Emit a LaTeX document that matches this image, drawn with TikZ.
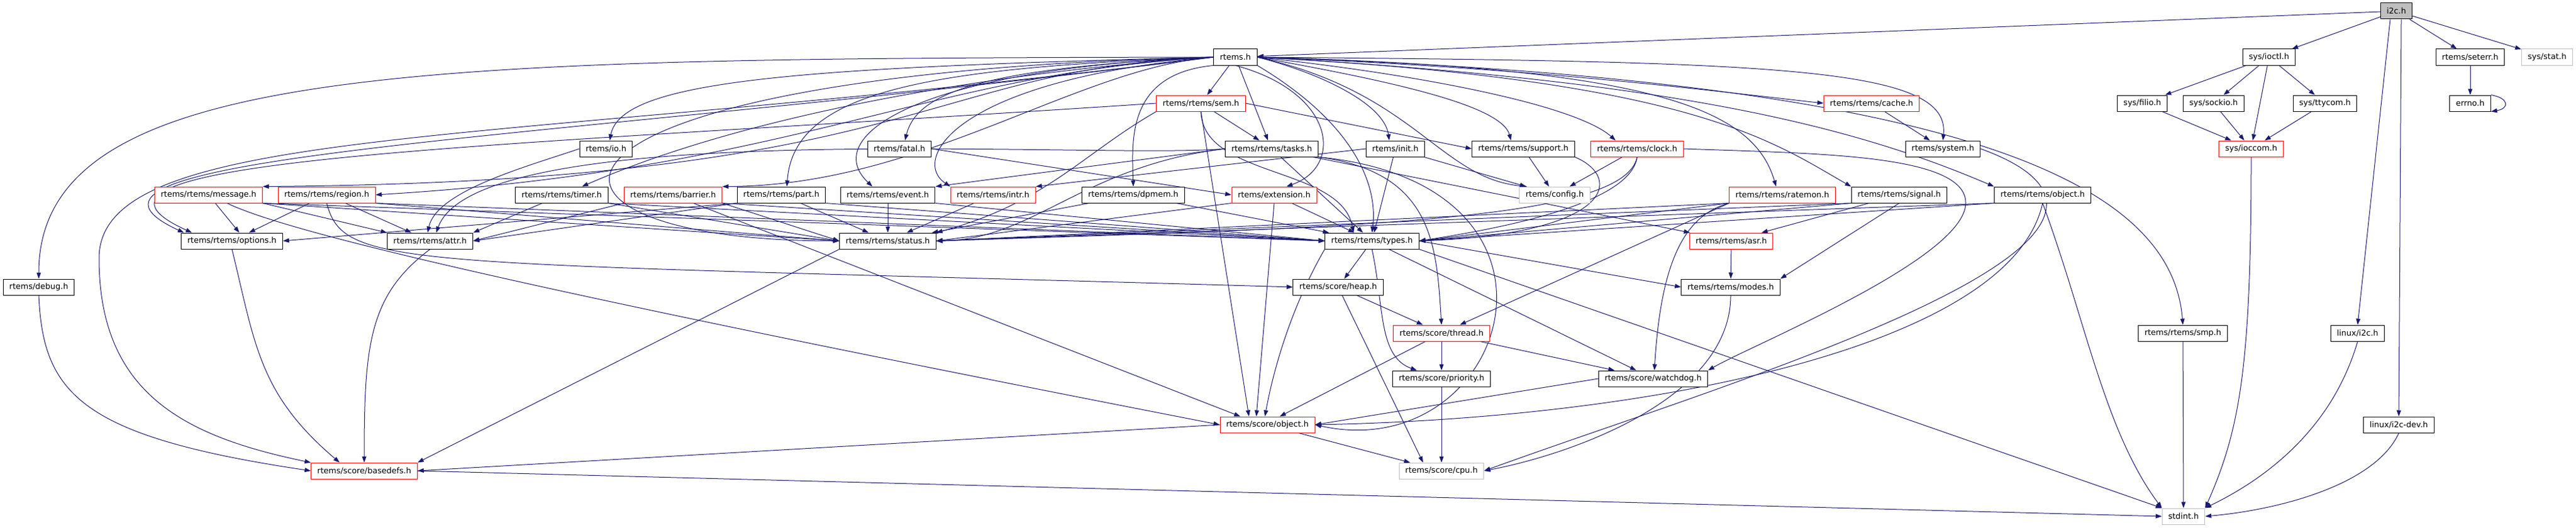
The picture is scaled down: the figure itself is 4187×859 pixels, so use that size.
\documentclass[tikz,border=0pt]{standalone}
\usepackage{fontspec}
\setmainfont{DejaVu Sans}
\usetikzlibrary{arrows.meta}

\definecolor{edgeblue}{HTML}{191970}
\definecolor{undocgray}{HTML}{BFBFBF}

\pgfdeclarelayer{edges}
\pgfsetlayers{edges,main}

\begin{document}
\begin{tikzpicture}[x=1pt,y=1pt,
  hdr/.style={draw=black,fill=white,line width=1pt,minimum height=26pt,inner xsep=10pt,inner ysep=0pt,font=\fontsize{13}{15}\selectfont},
  trunc/.style={hdr,draw=red},
  undoc/.style={hdr,draw=undocgray},
  mainhdr/.style={hdr,fill=undocgray},
  dep/.style={draw=edgeblue,line width=1pt,-{Triangle[length=10pt,width=7pt]}}]

\useasboundingbox (0,0) rectangle (4187,-859);

\node[mainhdr] (i2c) at (3895,-18) {i2c.h};

\node[hdr] (rtems) at (2008,-93) {rtems.h};
\node[hdr] (ioctl) at (3688,-93) {sys/ioctl.h};
\node[hdr] (seterr) at (4015,-93) {rtems/seterr.h};
\node[undoc] (stat) at (4140,-93) {sys/stat.h};

\node[trunc] (sem) at (1952,-168) {rtems/rtems/sem.h};
\node[trunc] (cache) at (3042,-168) {rtems/rtems/cache.h};
\node[hdr] (filio) at (3482,-168) {sys/filio.h};
\node[hdr] (sockio) at (3598,-168) {sys/sockio.h};
\node[hdr] (ttycom) at (3779,-168) {sys/ttycom.h};
\node[hdr] (errno) at (4015,-168) {errno.h};

\node[hdr] (io) at (985,-242) {rtems/io.h};
\node[hdr] (fatal) at (1462,-242) {rtems/fatal.h};
\node[hdr] (tasks) at (2067,-242) {rtems/rtems/tasks.h};
\node[hdr] (init) at (2268,-242) {rtems/init.h};
\node[hdr] (support) at (2476,-242) {rtems/rtems/support.h};
\node[trunc] (clock) at (2661,-242) {rtems/rtems/clock.h};
\node[hdr] (system) at (3158,-242) {rtems/system.h};
\node[trunc] (ioccom) at (3659,-242) {sys/ioccom.h};

\node[trunc] (message) at (339,-317) {rtems/rtems/message.h};
\node[trunc] (region) at (531,-317) {rtems/rtems/region.h};
\node[hdr] (timer) at (913,-317) {rtems/rtems/timer.h};
\node[trunc] (barrier) at (1094,-317) {rtems/rtems/barrier.h};
\node[hdr] (part) at (1270,-317) {rtems/rtems/part.h};
\node[hdr] (event) at (1443,-317) {rtems/rtems/event.h};
\node[trunc] (intr) at (1614,-317) {rtems/rtems/intr.h};
\node[hdr] (dpmem) at (1842,-317) {rtems/rtems/dpmem.h};
\node[trunc] (extension) at (2071,-317) {rtems/extension.h};
\node[undoc] (config) at (2527,-317) {rtems/config.h};
\node[trunc] (ratemon) at (2897,-317) {rtems/rtems/ratemon.h};
\node[hdr] (signal) at (3087,-317) {rtems/rtems/signal.h};
\node[hdr] (robject) at (3320,-317) {rtems/rtems/object.h};

\node[hdr] (options) at (377,-392) {rtems/rtems/options.h};
\node[hdr] (attr) at (699,-392) {rtems/rtems/attr.h};
\node[hdr] (status) at (1443,-392) {rtems/rtems/status.h};
\node[hdr] (types) at (2230,-392) {rtems/rtems/types.h};
\node[trunc] (asr) at (2814,-392) {rtems/rtems/asr.h};

\node[hdr] (debug) at (63,-467) {rtems/debug.h};
\node[hdr] (heap) at (2175,-467) {rtems/score/heap.h};
\node[hdr] (modes) at (2813,-467) {rtems/rtems/modes.h};

\node[trunc] (thread) at (2343,-542) {rtems/score/thread.h};
\node[hdr] (smp) at (3548,-542) {rtems/rtems/smp.h};
\node[hdr] (li2c) at (3832,-542) {linux/i2c.h};

\node[hdr] (priority) at (2343,-616) {rtems/score/priority.h};
\node[hdr] (watchdog) at (2687,-616) {rtems/score/watchdog.h};

\node[trunc] (sobject) at (2060,-691) {rtems/score/object.h};
\node[hdr] (i2cdev) at (3899,-691) {linux/i2c-dev.h};

\node[trunc] (basedefs) at (592,-766) {rtems/score/basedefs.h};
\node[undoc] (cpu) at (2343,-766) {rtems/score/cpu.h};

\node[undoc] (stdint) at (3549,-840) {stdint.h};

\coordinate (basebend) at (161,-420);
\coordinate (clockbend) at (3195,-330);

\begin{pgfonlayer}{edges}

\draw [dep] (i2c) to (rtems);
\draw [dep] (i2c) to (ioctl);
\draw [dep] (i2c) to (seterr);
\draw [dep] (i2c) to (stat);
\draw [dep] ([xshift=-10pt]i2c.south) to (li2c.north);
\draw [dep] ([xshift=8pt]i2c.south) to (i2cdev.north);

\draw [dep] (ioctl) to (filio);
\draw [dep] (ioctl) to (sockio);
\draw [dep] (ioctl) to (ioccom);
\draw [dep] (ioctl) to (ttycom);
\draw [dep] (filio) to (ioccom);
\draw [dep] (sockio) to (ioccom);
\draw [dep] (ttycom) to (ioccom);
\draw [dep] (ioccom.south) .. controls (3659,-600) and (3640,-700) .. (stdint.north east);

\draw [dep] (seterr) to (errno);
\draw [dep] (errno.north east) .. controls +(30,-5) and +(30,5) .. (errno.south east);

\draw [dep] (li2c.south) .. controls (3790,-700) and (3680,-780) .. (stdint.north east);
\draw [dep] (i2cdev.south) .. controls (3860,-790) and (3700,-830) .. (stdint.east);
\draw [dep] (smp) to (stdint);

\draw [dep] (rtems.west) .. controls (700,-95) and (63,-100) .. (debug.north);
\draw [dep] (rtems.west) .. controls (800,-240) and (161,-200) .. (basebend) .. controls (161,-640) and (300,-710) .. (basedefs.north west);
\draw [dep] (rtems.west) .. controls (900,-230) and (20,-250) .. ([xshift=-78pt]options.north);
\draw [dep] (rtems.west) .. controls (1500,-110) and (1500,-295) .. (message.north east);
\draw [dep] (rtems.west) .. controls (1500,-120) and (1300,-275) .. (region.east);
\draw [dep] (rtems.west) .. controls (1300,-110) and (1010,-130) .. ([xshift=6pt]io.north);
\draw [dep] (rtems.west) .. controls (1700,-110) and (1250,-170) .. ([xshift=33pt]timer.north);
\draw [dep] (rtems.west) .. controls (1750,-110) and (1500,-302) .. (barrier.north east);
\draw [dep] (rtems.west) .. controls (1500,-110) and (1290,-150) .. ([xshift=9pt]part.north);
\draw [dep] (rtems.west) .. controls (1500,-110) and (1330,-220) .. ([xshift=-25pt]event.north);
\draw [dep] (rtems.west) .. controls (1550,-130) and (1480,-260) .. (intr.north west);
\draw [dep] (rtems.west) .. controls (1600,-110) and (1490,-150) .. ([xshift=9pt]fatal.north);
\draw [dep] (rtems.west) .. controls (800,-120) and (790,-392) .. (status.west);
\draw [dep] (rtems.south west) .. controls (1830,-120) and (1840,-230) .. (dpmem.north);
\draw [dep] (rtems) to (sem);
\draw [dep] (rtems) to ([xshift=-6pt]tasks.north);
\draw [dep] (rtems.south) .. controls (2170,-150) and (2185,-270) .. ([xshift=20pt]extension.north);
\draw [dep] (rtems.south east) .. controls (2200,-200) and (2240,-300) .. (types.north);
\draw [dep] (rtems.east) .. controls (2150,-120) and (2250,-170) .. ([xshift=-10pt]init.north);
\draw [dep] (rtems.east) .. controls (2300,-150) and (2340,-290) .. ([xshift=-45pt]config.north);
\draw [dep] (rtems.east) .. controls (2250,-130) and (2440,-170) .. ([xshift=-20pt]support.north);
\draw [dep] (rtems.east) .. controls (2300,-120) and (2560,-170) .. ([xshift=-35pt]clock.north);
\draw [dep] (rtems.east) .. controls (2500,-110) and (2800,-150) .. (cache.west);
\draw [dep] (rtems.east) .. controls (2900,-100) and (3170,-110) .. (system.north);
\draw [dep] (rtems.east) .. controls (2700,-110) and (2850,-180) .. ([xshift=-10pt]ratemon.north);
\draw [dep] (rtems.east) .. controls (2750,-130) and (2880,-230) .. (signal.north west);
\draw [dep] (rtems.east) .. controls (2700,-130) and (3000,-200) .. (robject.north west);
\draw [dep] (rtems.east) .. controls (3200,-130) and (3530,-300) .. (smp.north);

\draw [dep] (sem) to ([xshift=-20pt]tasks.north);
\draw [dep] (sem.east) to (support.west);
\draw [dep] (sem.south) to ([xshift=-30pt]sobject.north);
\draw [dep] (sem.south) .. controls (1955,-290) and (2180,-270) .. ([xshift=-30pt]types.north);
\draw [dep] (sem.south west) .. controls (1760,-250) and (1700,-330) .. (status.north east);
\draw [dep] (sem.west) .. controls (800,-240) and (40,-255) .. ([xshift=-65pt]options.north);

\draw [dep] (tasks) to (types);
\draw [dep] (tasks.west) .. controls (1760,-270) and (1680,-390) .. (status.east);
\draw [dep] (tasks.west) to (event.north east);
\draw [dep] (tasks.west) .. controls (1788,-260) and (779,-187) .. ([xshift=10pt]attr.north);
\draw [dep] (tasks.south east) .. controls (2330,-280) and (2335,-400) .. (thread.north);
\draw [dep] (tasks.south east) .. controls (2600,-300) and (2450,-760) .. (sobject.east);
\draw [dep] (tasks) to (asr);

\draw [dep] (io.west) .. controls (860,-270) and (710,-310) .. ([xshift=-4pt]attr.north);

\draw [dep] (fatal.east) to (extension.west);

\draw [dep] (init.west) to (intr.north east);
\draw [dep] (init) to (config);
\draw [dep] (init) to (types);

\draw [dep] (support) to (config);
\draw [dep] (support.south east) .. controls (2640,-290) and (2620,-380) .. (types.east);

\draw [dep] (clock) to (config);
\draw [dep] (clock.south) .. controls (2650,-330) and (2450,-370) .. (types.east);
\draw [dep] (clock.south) .. controls (2640,-360) and (2200,-370) .. (status.east);
\draw [dep] (clock.east) .. controls (2950,-250) and (3195,-250) .. (clockbend) .. controls (3195,-420) and (2850,-560) .. (watchdog.north east);

\draw [dep] (cache) to (system);
\draw [dep] (system.east) .. controls (3616,-387) and (2810,-621) .. (cpu.east);

\draw [dep] (message) to ([xshift=12pt]options.north);
\draw [dep] (message.south east) to (attr.north west);
\draw [dep] (message.south east) to (status.west);
\draw [dep] (message.south east) to (types.west);
\draw [dep] ([xshift=30pt]message.south) .. controls (470,-380) and (900,-480) .. (sobject.west);

\draw [dep] (region) to (options);
\draw [dep] (region) to (attr);
\draw [dep] (region.south east) to (status.west);
\draw [dep] (region.south east) to (types.west);
\draw [dep] (region.south) .. controls (560,-440) and (650,-425) .. (heap.west);

\draw [dep] (timer) to (attr.north east);
\draw [dep] (timer.south east) to (status.west);
\draw [dep] (timer.south east) to (types.west);

\draw [dep] (barrier.south west) to (attr.east);
\draw [dep] (barrier.south east) to (status.west);
\draw [dep] (barrier.south east) to (types.west);
\draw [dep] ([xshift=33pt]barrier.south) to ([xshift=-44pt]sobject.north);

\draw [dep] (part.south west) to (options.east);
\draw [dep] (part.south west) to (attr.east);
\draw [dep] (part) to (status);
\draw [dep] (part.south east) to (types.west);

\draw [dep] (event) to (status);
\draw [dep] (event.south east) to (types.west);

\draw [dep] (intr) to (status);

\draw [dep] (dpmem) to (status);
\draw [dep] (dpmem) to (types);

\draw [dep] (extension.south west) to (status.east);
\draw [dep] (extension) to (types);
\draw [dep] (extension.south) to ([xshift=-18pt]sobject.north);

\draw [dep] (ratemon.south west) to (status.east);
\draw [dep] (ratemon.south west) to (types.east);
\draw [dep] (ratemon.south west) to (thread);
\draw [dep] (ratemon.south west) .. controls (2740,-350) and (2700,-420) .. ([xshift=2pt]watchdog.north);

\draw [dep] (signal.south west) to (status.east);
\draw [dep] (signal.south west) to (types.east);
\draw [dep] (signal) to (asr);
\draw [dep] (signal.south) to (modes.north east);

\draw [dep] (robject.south west) to (status.east);
\draw [dep] (robject.south west) to (types.east);
\draw [dep] (robject.south) .. controls (3270,-560) and (2700,-680) .. (sobject.east);
\draw [dep] (robject.south) .. controls (3390,-520) and (3420,-700) .. (stdint.north west);

\draw [dep] (asr) to (modes);

\draw [dep] (types) to (heap);
\draw [dep] (types.south west) .. controls (2099,-499) and (2070,-600) .. ([xshift=-4pt]sobject.north);
\draw [dep] (types.south) .. controls (2250,-500) and (2240,-580) .. ([xshift=-40pt]priority.north);
\draw [dep] (types) to (watchdog);
\draw [dep] (types.east) to (modes.west);
\draw [dep] (types.south east) to (stdint.north west);

\draw [dep] (heap) to (thread);
\draw [dep] (heap) to ([xshift=-30pt]cpu.north);

\draw [dep] (thread) to ([xshift=20pt]sobject.north);
\draw [dep] (thread) to (priority);
\draw [dep] (thread) to (watchdog);

\draw [dep] (priority) to (cpu);
\draw [dep] (watchdog.west) to (sobject.east);
\draw [dep] (modes.south) .. controls (2813,-650) and (2550,-740) .. (cpu.east);

\draw [dep] (sobject) to (cpu);
\draw [dep] (sobject.west) to (basedefs.east);

\draw [dep] (debug.south) .. controls (70,-640) and (130,-710) .. (basedefs.west);
\draw [dep] (options.south) .. controls (415,-560) and (420,-640) .. ([xshift=-40pt]basedefs.north);
\draw [dep] (attr.south) .. controls (600,-480) and (592,-560) .. (basedefs.north);
\draw [dep] (status.south west) to (basedefs.north east);

\draw [dep] (basedefs.east) to (stdint.west);

\end{pgfonlayer}

\end{tikzpicture}
\end{document}
